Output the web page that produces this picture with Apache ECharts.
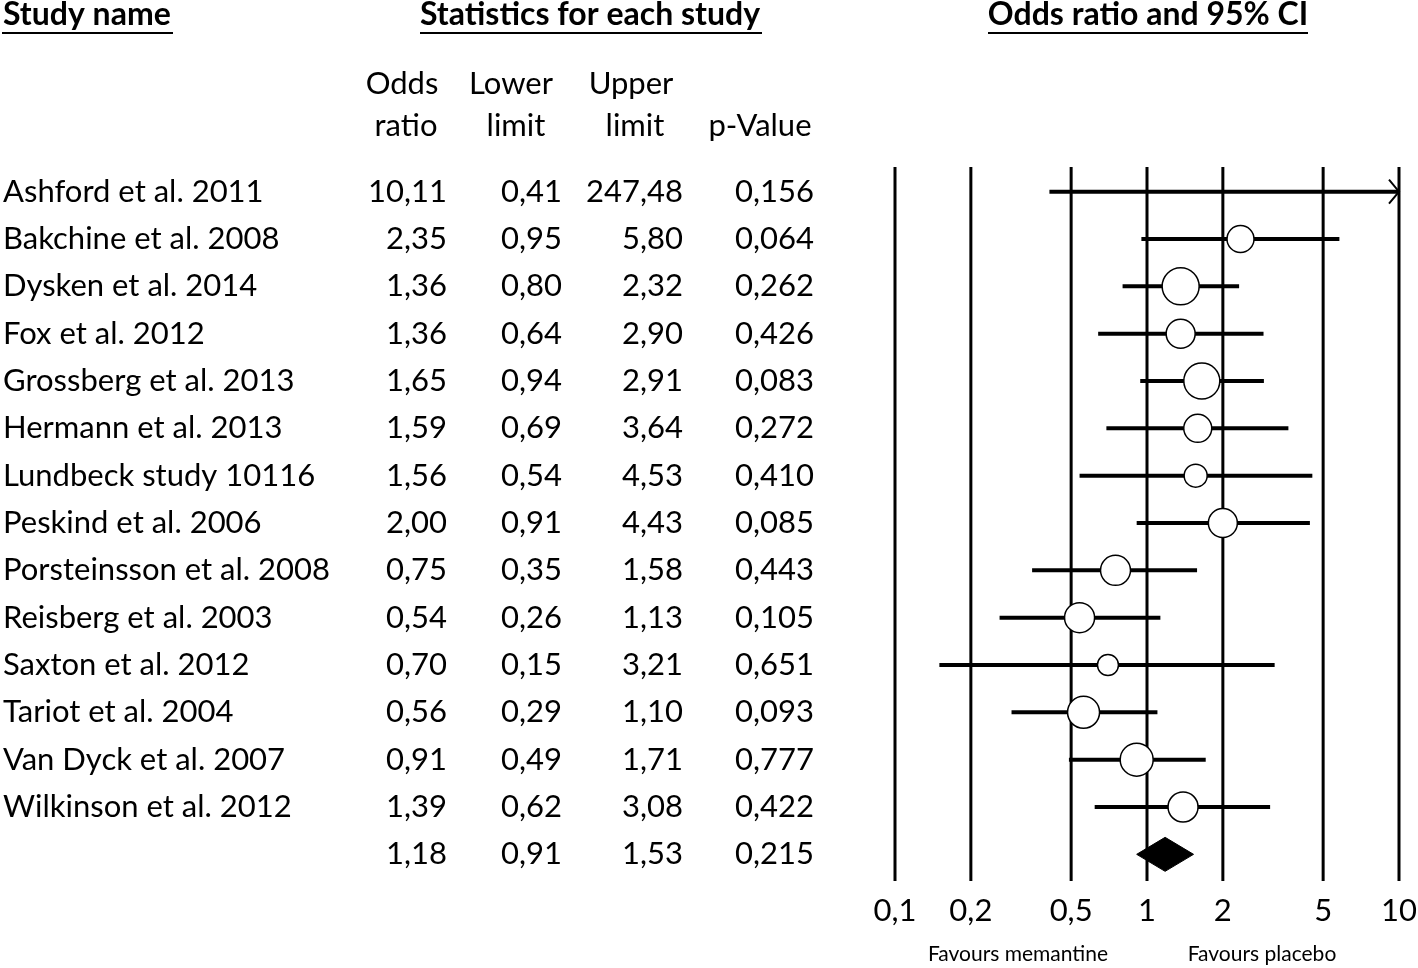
<!DOCTYPE html>
<html><head><meta charset="utf-8">
<script src="https://cdn.jsdelivr.net/npm/echarts@6/dist/echarts.min.js"></script>
<style>html,body{margin:0;padding:0;background:#fff}#chart{width:1418px;height:968px}</style>
</head><body><div id="chart"></div>
<script>
// ---- data ----
const studyNames = ['Ashford et al. 2011','Bakchine et al. 2008','Dysken et al. 2014','Fox et al. 2012','Grossberg et al. 2013','Hermann et al. 2013','Lundbeck study 10116','Peskind et al. 2006','Porsteinsson et al. 2008','Reisberg et al. 2003','Saxton et al. 2012','Tariot et al. 2004','Van Dyck et al. 2007','Wilkinson et al. 2012',''];
const oddsRatio  = [10.11,2.35,1.36,1.36,1.65,1.59,1.56,2.00,0.75,0.54,0.70,0.56,0.91,1.39,1.18];
const lowerLimit = [0.41,0.95,0.80,0.64,0.94,0.69,0.54,0.91,0.35,0.26,0.15,0.29,0.49,0.62,0.91];
const upperLimit = [247.48,5.80,2.32,2.90,2.91,3.64,4.53,4.43,1.58,1.13,3.21,1.10,1.71,3.08,1.53];
const pValue     = [0.156,0.064,0.262,0.426,0.083,0.272,0.410,0.085,0.443,0.105,0.651,0.093,0.777,0.422,0.215];
const studyWeight = [0,27,37,29,36,28,23,29,30,30,21,32,33,30]; // relative weight (marker diameter)
const summaryRow = 14;
const xTicks = [0.1,0.2,0.5,1,2,5,10];
const xTickLabels = ['0,1','0,2','0,5','1','2','5','10'];
const headerTitles = ['Study name','Statistics for each study','Odds ratio and 95% CI'];
const colHeaders = [['Odds','ratio'],['Lower','limit'],['Upper','limit'],['','p-Value']];
const favourLabels = ['Favours memantine','Favours placebo'];

// ---- helpers ----
const FONT = 'Lato';
const FS = 31;
const FS_HDR = 32;
const fmt = (v, d) => v.toFixed(d).replace('.', ',');
const rows = studyNames.map((_, i) => String(i));
const xMin = 0.1, xMax = 10;

function colAxis(data, offset, align) {
  return {
    type: 'category', gridIndex: 0, position: 'left', offset: offset, inverse: true,
    data: data,
    axisLine: {show: false}, axisTick: {show: false}, splitLine: {show: false},
    axisLabel: {interval: 0, margin: 0, align: align || 'right', color: '#000',
      fontFamily: FONT, fontSize: FS, padding: [4, 0, 0, 0]}
  };
}

const gridLeft = 895, gridRight = 1399, gridTop = 168, gridBottom = 878;

const ciData = [];
for (let i = 0; i < summaryRow; i++) ciData.push([i, lowerLimit[i], Math.min(upperLimit[i], xMax), upperLimit[i] > xMax ? 1 : 0]);
const circleData = [];
for (let i = 0; i < summaryRow; i++) if (oddsRatio[i] <= xMax) circleData.push([oddsRatio[i], i, studyWeight[i]]);

const graphics = [];
// headers
const hdr = [{x: 3, align: 'left', u: [2, 173]}, {x: 590, align: 'center', u: [420, 762]}, {x: 1148, align: 'center', u: [988, 1308]}];
headerTitles.forEach((t, k) => {
  graphics.push({type: 'text', x: hdr[k].x, y: 15, style: {text: t, fill: '#000', font: 'bold ' + FS_HDR + 'px ' + FONT, align: hdr[k].align, verticalAlign: 'middle'}});
  graphics.push({type: 'line', shape: {x1: hdr[k].u[0], y1: 33, x2: hdr[k].u[1], y2: 33}, style: {stroke: '#000', lineWidth: 2}});
});
const colCenters = [[402, 406], [511, 516], [631, 635], [760, 760]];
colHeaders.forEach((pair, k) => {
  pair.forEach((w, j) => {
    if (!w) return;
    graphics.push({type: 'text', x: colCenters[k][j], y: j === 0 ? 84 : 126, style: {text: w, fill: '#000', font: FS + 'px ' + FONT, align: 'center', verticalAlign: 'middle'}});
  });
});
const favX = [1018, 1262];
favourLabels.forEach((t, k) => {
  graphics.push({type: 'text', x: favX[k], y: 954, style: {text: t, fill: '#000', font: '21px ' + FONT, align: 'center', verticalAlign: 'middle'}});
});

const option = {
  animation: false,
  backgroundColor: '#fff',
  grid: {left: gridLeft, top: gridTop, width: gridRight - gridLeft, height: gridBottom - gridTop, containLabel: false},
  xAxis: {type: 'log', logBase: 10, min: xMin, max: xMax, show: false},
  yAxis: [
    {type: 'category', data: rows, inverse: true, show: false},
    colAxis(studyNames, gridLeft - 3, 'left'),
    colAxis(oddsRatio.map(v => fmt(v, 2)), gridLeft - 447),
    colAxis(lowerLimit.map(v => fmt(v, 2)), gridLeft - 562),
    colAxis(upperLimit.map(v => fmt(v, 2)), gridLeft - 683),
    colAxis(pValue.map(v => fmt(v, 3)), gridLeft - 814)
  ],
  graphic: graphics,
  series: [
    { // reference lines + tick labels
      type: 'custom', z: 1, clip: false, yAxisIndex: 0,
      data: xTicks.map((v, i) => [v, 0, i]),
      encode: {x: 0, y: 1},
      renderItem: function (params, api) {
        const cs = params.coordSys;
        const x = api.coord([api.value(0), 0])[0];
        const idx = api.value(2);
        return {type: 'group', children: [
          {type: 'line', shape: {x1: x, y1: cs.y - 1, x2: x, y2: cs.y + cs.height + 3}, style: {stroke: '#000', lineWidth: 3}},
          {type: 'text', x: x, y: cs.y + cs.height + 33, style: {text: xTickLabels[idx], fill: '#000', font: FS + 'px ' + FONT, align: 'center', verticalAlign: 'middle'}}
        ]};
      }
    },
    { // confidence intervals
      type: 'custom', z: 2, clip: false, yAxisIndex: 0,
      data: ciData,
      encode: {x: [1, 2], y: 0},
      renderItem: function (params, api) {
        const row = api.value(0);
        const p1 = api.coord([api.value(1), row]);
        const p2 = api.coord([api.value(2), row]);
        const children = [{type: 'line', shape: {x1: p1[0], y1: p1[1], x2: p2[0], y2: p2[1]}, style: {stroke: '#000', lineWidth: 4}}];
        if (api.value(3)) {
          children.push({type: 'polyline', shape: {points: [[p2[0] - 10, p2[1] - 12], [p2[0], p2[1]], [p2[0] - 10, p2[1] + 12]]}, style: {stroke: '#000', lineWidth: 2, fill: null}});
        }
        return {type: 'group', children: children};
      }
    },
    { // point estimates
      type: 'scatter', z: 3, yAxisIndex: 0,
      data: circleData,
      symbol: 'circle',
      symbolSize: d => d[2],
      itemStyle: {color: '#fff', borderColor: '#000', borderWidth: 1.5, opacity: 1}
    },
    { // summary diamond
      type: 'custom', z: 3, clip: false, yAxisIndex: 0,
      data: [[summaryRow, lowerLimit[summaryRow], oddsRatio[summaryRow], upperLimit[summaryRow]]],
      encode: {x: [1, 2, 3], y: 0},
      renderItem: function (params, api) {
        const row = api.value(0);
        const l = api.coord([api.value(1), row]);
        const m = api.coord([api.value(2), row]);
        const r = api.coord([api.value(3), row]);
        const h = 17;
        return {type: 'polygon', shape: {points: [[l[0], l[1]], [m[0], m[1] - h], [r[0], r[1]], [m[0], m[1] + h]]}, style: {fill: '#000', stroke: '#000'}};
      }
    }
  ]
};

const chart = echarts.init(document.getElementById('chart'), null, {renderer: 'canvas'});
chart.setOption(option);
</script></body></html>
